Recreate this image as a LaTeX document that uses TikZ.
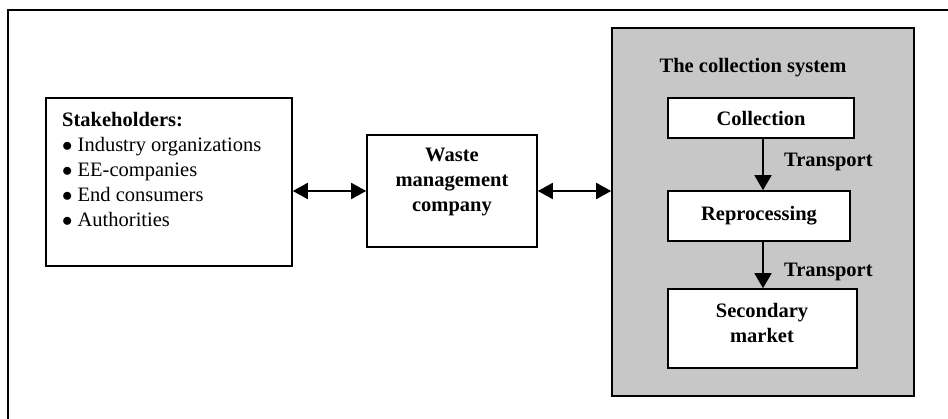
\documentclass[tikz,border=0pt]{standalone}
\usepackage{fontspec}
\setmainfont{Liberation Serif}
\usetikzlibrary{arrows.meta}
\newcommand{\itemdot}{$\bullet$\ }
\begin{document}
\begin{tikzpicture}[x=1pt,y=-1pt,
  box/.style={draw, line width=1.6pt, fill=white, inner sep=0pt},
  panel/.style={draw, line width=1.6pt, fill=black!22, inner sep=0pt},
  txt/.style={font=\fontsize{20.5}{25}\selectfont, inner sep=0pt},
  btxt/.style={font=\fontsize{20.5}{25}\selectfont\bfseries, inner sep=0pt},
  link/.style={line width=1.8pt, {Triangle[length=15pt,width=16pt]}-{Triangle[length=15pt,width=16pt]}},
  flow/.style={line width=1.6pt, -{Triangle[length=15pt,width=17pt]}},
]
\useasboundingbox (0,0) rectangle (948,418);
\fill[white] (0,0) rectangle (948,418);
% outer frame (runs past the page on the right and bottom)
\draw[line width=1.3pt] (950,10) -- (8,10) -- (8,420);

% stakeholders
\node[box, minimum width=246pt, minimum height=168pt] (stake) at (169,182) {};
\node[txt, align=left, anchor=north west] (stakelist) at (62,112)
  {\textbf{Stakeholders:}\\
   \itemdot Industry organizations\\
   \itemdot EE-companies\\
   \itemdot End consumers\\
   \itemdot Authorities};

% waste management company
\node[box, minimum width=170pt, minimum height=112pt] (waste) at (452,191) {};
\node[btxt, align=center] (wastetxt) at (452,182) {Waste\\management\\company};

% collection system panel
\node[panel, minimum width=302pt, minimum height=368pt] (sys) at (763,212) {};
\node[btxt] (systitle) at (753,68) {The collection system};

\node[box, btxt, minimum width=186pt, minimum height=40pt] (coll) at (761,118) {Collection};
\node[box, btxt, minimum width=182pt, minimum height=50pt] (repro) at (759,216) {Reprocessing};
\node[box, minimum width=189pt, minimum height=79pt] (sec) at (762.5,328.5) {};
\node[btxt, align=center] (sectxt) at (762,323) {Secondary\\market};

\coordinate (ax) at (763,0);
\draw[flow] (coll.south -| ax) -- (repro.north -| ax);
\draw[flow] (repro.south -| ax) -- (sec.north -| ax);
\node[btxt, anchor=west] (t1) at (784,162) {Transport};
\node[btxt, anchor=west] (t2) at (784,272) {Transport};

% two-way links
\draw[link] (stake.east |- waste.west) -- (waste.west);
\draw[link] (waste.east) -- (sys.west |- waste.east);
\end{tikzpicture}
\end{document}
